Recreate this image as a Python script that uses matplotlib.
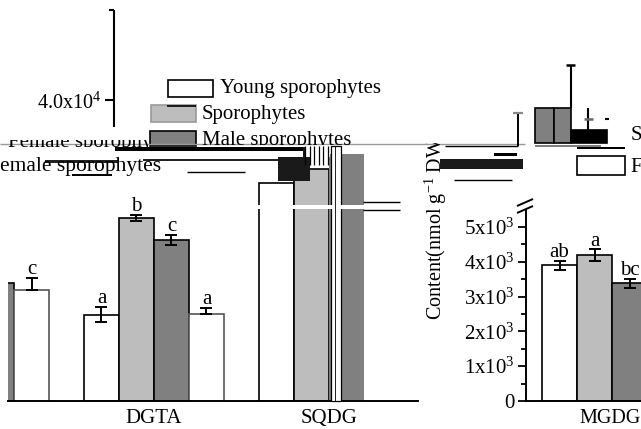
import matplotlib
matplotlib.use("Agg")
import matplotlib.pyplot as plt
from matplotlib.patches import Rectangle
import numpy as np

plt.rcParams["font.family"] = ["Liberation Serif", "DejaVu Serif"]
plt.rcParams["mathtext.default"] = "regular"

# ── Data ──────────────────────────────────────────────────────────────────────
STAGES = ["Young sporophytes", "Sporophytes", "Male sporophytes", "Female sporophytes"]
COLORS = ["white", "#bdbdbd", "#808080", "white"]

prev_vals = [3390, 3200]
prev_up = [0, 340]
prev_down = [0, 0]
prev_letters = ["", "c"]

dgta_vals = [2480, 5260, 4630, 2500]
dgta_up = [220, 90, 140, 170]
dgta_down = [220, 90, 140, 0]
dgta_letters = ["a", "b", "c", "a"]

sqdg_vals = [6270, 6670, 7100, 5490]

mgdg_vals = [3900, 4190, 3390]
mgdg_up = [130, 170, 130]
mgdg_down = [130, 170, 130]
mgdg_letters = ["ab", "a", "bc"]

right_ticks = [0, 1000, 2000, 3000, 4000, 5000]
right_labels = ["0", "1x10$^3$", "2x10$^3$", "3x10$^3$", "4x10$^3$", "5x10$^3$"]

W, H = 641, 429
BAR_PX = 35.0
Y0_PX = 401
FS = 15


def axes_px(fig, x0, x1, ytop):
    return fig.add_axes([x0 / W, 1 - Y0_PX / H, (x1 - x0) / W, (Y0_PX - ytop) / H])


def draw_bars(ax, xs, vals, up, down, letters, colors, edges=None):
    edges = edges or ["black"] * len(vals)
    ax.bar(xs, vals, width=1.0, color=colors, edgecolor=edges, linewidth=1.2, zorder=2)
    for x, v, u, d, t in zip(xs, vals, up, down, letters):
        if u:
            ax.errorbar(x, v, yerr=[[d], [u]], color="black", capsize=4, capthick=1.4,
                        elinewidth=1.4, zorder=3)
        if t:
            ax.text(x, v + u - 40, t, ha="center", va="bottom", fontsize=FS, zorder=4)


fig = plt.figure(figsize=(W / 100, H / 100), dpi=100, facecolor="white")

# ── Left panel ────────────────────────────────────────────────────────────────
ax = axes_px(fig, 8, 418, 145)
center_px = 154.0
ax.set_xlim((8 - center_px) / BAR_PX, (418 - center_px) / BAR_PX)
ax.set_ylim(0, (Y0_PX - 145) / 34.8 * 1000)
offsets = np.array([-1.5, -0.5, 0.5, 1.5])
draw_bars(ax, offsets[2:] - 5, prev_vals, prev_up, prev_down, prev_letters, COLORS[2:],
          ["black", "#555555"])
draw_bars(ax, offsets, dgta_vals, dgta_up, dgta_down, dgta_letters, COLORS,
          ["black", "black", "black", "#555555"])
draw_bars(ax, offsets + 5, sqdg_vals, [0] * 4, [0] * 4, [""] * 4, COLORS,
          ["black", "black", "none", "none"])
for s in ["top", "left", "right"]:
    ax.spines[s].set_visible(False)
ax.spines["bottom"].set_linewidth(1.4)
ax.set_yticks([])
ax.set_xticks([0, 5], ["DGTA", "SQDG"], fontsize=FS)
ax.tick_params(axis="x", length=0, pad=6)

# ── Right panel ───────────────────────────────────────────────────────────────
ax2 = axes_px(fig, 525.5, W, 210)
center2_px = 612.0
ax2.set_xlim((525.5 - center2_px) / BAR_PX, (W - center2_px) / BAR_PX)
ax2.set_ylim(0, (Y0_PX - 210) / 34.8 * 1000)
draw_bars(ax2, offsets[:3], mgdg_vals, mgdg_up, mgdg_down, mgdg_letters, COLORS[:3])
for s in ["top", "right"]:
    ax2.spines[s].set_visible(False)
for s in ["left", "bottom"]:
    ax2.spines[s].set_linewidth(1.4)
ax2.set_yticks(right_ticks, right_labels, fontsize=FS)
ax2.set_yticks(np.array(right_ticks[:-1]) + 500, minor=True)
ax2.tick_params(axis="y", which="major", length=6, width=1.3, pad=2)
ax2.tick_params(axis="y", which="minor", length=3.5, width=1.3)
ax2.set_xticks([-0.05], ["MGDG"], fontsize=FS - 0.5)
ax2.tick_params(axis="x", length=0, pad=6)

# ── Overlay in pixel space: legend, upper fragments and scan tears ────────────
ov = fig.add_axes([0, 0, 1, 1], zorder=5)
ov.set_xlim(0, W)
ov.set_ylim(H, 0)
ov.axis("off")


def box(x0, y0, x1, y1, fc="white", ec="black", lw=1.2):
    ov.add_patch(Rectangle((x0, y0), x1 - x0, y1 - y0, facecolor=fc, edgecolor=ec, linewidth=lw))


def line(xs, ys, c="black", lw=1.2):
    ov.plot(xs, ys, color=c, linewidth=lw, solid_capstyle="butt")


def clip_text(t, x, y, w, h):
    t.set_clip_path(Rectangle((x, y), w, h, transform=ov.transData))
    t.set_clip_on(True)


# upper y axis
line([114, 114], [10, 127], lw=1.5)
line([109, 114], [10, 10], lw=1.5)
line([105, 114], [100, 100], lw=1.5)
ov.text(101, 103, r"4.0x10$^4$", ha="right", va="center", fontsize=FS - 0.5)

# white-out above the tear, then black and grey tears
box(0, 127, 525, 145, ec="none")
line([0, 525], [144, 144], c="#999999", lw=1)
box(115, 147, 303, 151, fc="black", ec="none")
box(143, 158.5, 278, 161, fc="#222222", ec="none")
box(278, 157, 310, 181, fc="#1a1a1a", ec="none")
box(303, 147, 330, 157, fc="#1a1a1a", ec="none")
box(305, 145, 330, 157, fc="white", ec="none")
for vx in np.arange(305, 330, 4.5):
    line([vx, vx], [146, 165], lw=0.9)
line([187, 245], [171.5, 171.5], lw=1)

# SQDG white stripe and tear
box(331, 146, 341, 401, ec="black", lw=0.9)
line([335, 335], [146, 401], c="black", lw=0.6)
box(258, 205, 400, 209, ec="none")
line([363, 400], [202, 202], lw=1)
line([363, 400], [210, 210], lw=1)

# legend
box(168, 80, 213, 97)
box(151, 105, 196, 122, fc="#bdbdbd", ec="#999999")
line([167, 196], [105.5, 105.5])
box(150, 131, 196, 146, fc="#808080")
ov.text(220, 89, STAGES[0], va="center", fontsize=FS)
ov.text(202, 114, STAGES[1], va="center", fontsize=FS)
clip_text(ov.text(202, 140, STAGES[2], va="center", fontsize=FS), 0, 129, W, 16)
box(45, 160, 118, 163, fc="#222222", ec="none")
line([72, 112], [175, 175], lw=1.4)
ov.text(0, 167, "emale sporophytes", va="center", fontsize=FS + 0.5)

# garbled line of the legend
clip_text(ov.text(8, 143, "Female sporophytes", va="center", fontsize=FS), 8, 140, 140, 7)

# right upper fragments
box(535, 108, 554, 143, fc="#808080")
box(554, 108, 571, 143, fc="#808080")
box(571, 130, 607, 143, fc="black")
line([571, 571], [65, 108], lw=1.5)
line([566, 575], [65, 65], lw=1.8)
line([588, 588], [108, 130], lw=1.5)
line([584, 593], [119, 119], c="#666666", lw=1.8)
line([605, 609], [119, 119], lw=1.5)
line([535, 601], [146, 146], c="#666666", lw=1.2)
box(577, 147, 625, 149, fc="black", ec="none")
box(577, 156, 625, 175)
ov.text(631, 135, "S", va="center", fontsize=FS)
ov.text(630, 167, "F", va="center", fontsize=FS)

# left-of-axis fragments
line([518, 518], [113, 146], lw=1.4)
line([513, 523], [113, 113], c="#888888", lw=1.6)
line([445, 518], [146, 146], lw=1)
box(494, 153, 517, 156, fc="black", ec="none")
box(440, 159, 523, 169, fc="#1a1a1a", ec="none")
line([454, 512], [180, 180], lw=1)

# y label
clip_text(ov.text(436, 320, "Content(nmol g$^{-1}$ DW)", rotation=90, ha="center", va="bottom",
                  fontsize=FS - 0.5), 420, 143, 30, 180)

# axis break
line([517, 533], [206, 199], lw=1.4)
line([517, 533], [213, 206], lw=1.4)

fig.savefig("out.png", dpi=100)
